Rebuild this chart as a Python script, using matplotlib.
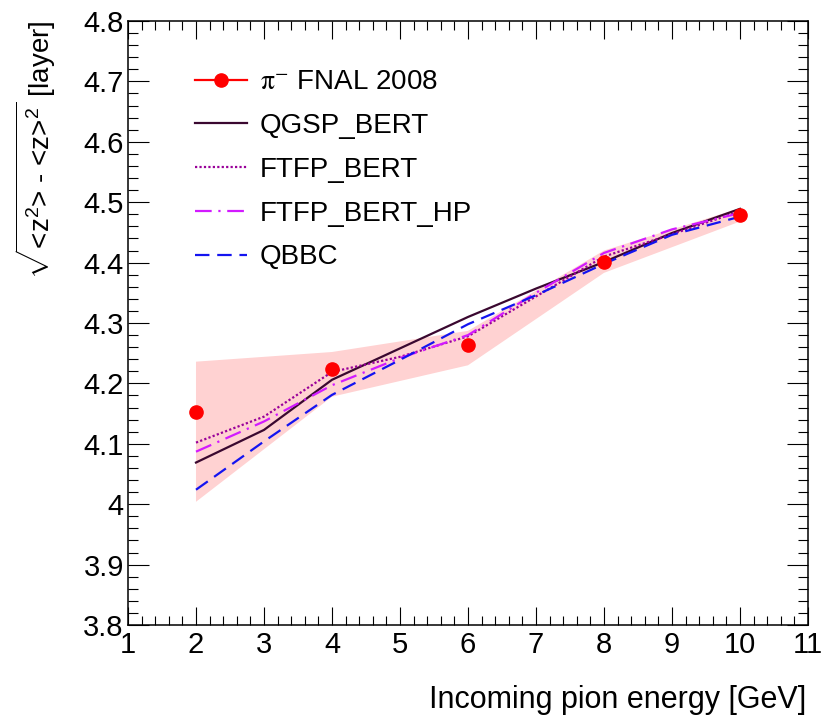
"""Shower width vs pion energy - FNAL 2008 data vs Geant4 physics lists."""

import matplotlib
matplotlib.use("Agg")
import matplotlib.pyplot as plt
from matplotlib.ticker import MultipleLocator, FixedLocator, FixedFormatter


# test beam data (pi- FNAL 2008) with systematic band
energy = [2, 4, 6, 8, 10]
fnal = [4.152, 4.224, 4.264, 4.401, 4.479]
band_hi = [4.236, 4.252, 4.287, 4.420, 4.490]
band_lo = [4.004, 4.178, 4.230, 4.383, 4.468]

# simulation, every GeV
energy_sim = [2, 3, 4, 5, 6, 7, 8, 9, 10]
qgsp_bert = [4.069, 4.123, 4.206, 4.258, 4.310, 4.357, 4.401, 4.449, 4.489]
ftfp_bert = [4.102, 4.145, 4.219, 4.244, 4.278, 4.344, 4.410, 4.447, 4.485]
ftfp_bert_hp = [4.087, 4.137, 4.197, 4.242, 4.280, 4.350, 4.416, 4.455, 4.482]
qbbc = [4.024, 4.104, 4.181, 4.239, 4.298, 4.346, 4.398, 4.446, 4.476]

yticks = [3.8, 3.9, 4.0, 4.1, 4.2, 4.3, 4.4, 4.5, 4.6, 4.7, 4.8]
ytick_labels = ["3.8", "3.9", "4", "4.1", "4.2", "4.3", "4.4", "4.5", "4.6", "4.7", "4.8"]
xticks = [1, 2, 3, 4, 5, 6, 7, 8, 9, 10, 11]

plt.rcParams["font.family"] = ["Liberation Sans", "DejaVu Sans"]
plt.rcParams["mathtext.fontset"] = "custom"
plt.rcParams["mathtext.rm"] = "Liberation Sans"
plt.rcParams["mathtext.it"] = "Liberation Sans"

fig = plt.figure(figsize=(8.36, 7.21), dpi=100)
ax = fig.add_axes([0.1531, 0.1331, 0.8134, 0.8378])

ax.fill_between(energy, band_lo, band_hi, facecolor="#ffd2d2", edgecolor="none",
                linewidth=0, zorder=1)

ax.plot(energy_sim, qgsp_bert, color="#3a0830", lw=1.6, ls="-", label="QGSP_BERT", zorder=3)
ax.plot(energy_sim, ftfp_bert, color="#990099", lw=1.6, ls=(0, (1, 1)), label="FTFP_BERT", zorder=3)
ax.plot(energy_sim, ftfp_bert_hp, color="#d21aff", lw=1.6, ls=(0, (7.5, 3, 1, 3)),
        label="FTFP_BERT_HP", zorder=3)
ax.plot(energy_sim, qbbc, color="#1414f0", lw=1.6, ls=(0, (6.5, 3.5)), label="QBBC", zorder=3)
ax.plot(energy, fnal, color="red", marker="o", ms=9.5, ls="none", zorder=5)

# legend entry for the data shows a line through the marker (ROOT "lp")
data_handle, = ax.plot([], [], color="red", marker="o", ms=9.5, lw=1.6)
h, l = ax.get_legend_handles_labels()
leg = ax.legend([data_handle] + h, [r"$\mathrm{\pi}^{-}$ FNAL 2008"] + l, loc="upper left",
                bbox_to_anchor=(0.0985, 0.92), frameon=False, fontsize=20,
                handlelength=1.87, handletextpad=0.47, labelspacing=0.64,
                borderpad=0, borderaxespad=0)
leg.get_texts()[0].set_math_fontfamily("stix")

ax.set_xlim(1, 11)
ax.set_ylim(3.8, 4.8)
ax.xaxis.set_major_locator(FixedLocator(xticks))
ax.xaxis.set_minor_locator(MultipleLocator(0.2))
ax.yaxis.set_major_locator(FixedLocator(yticks))
ax.yaxis.set_major_formatter(FixedFormatter(ytick_labels))
ax.yaxis.set_minor_locator(MultipleLocator(0.02))

ax.tick_params(axis="both", which="both", direction="in", top=True, right=True,
               labelsize=21, width=0.8)
ax.tick_params(axis="x", which="major", length=13, pad=4)
ax.tick_params(axis="x", which="minor", length=6.5)
ax.tick_params(axis="y", which="major", length=15, pad=3)
ax.tick_params(axis="y", which="minor", length=7)
for sp in ax.spines.values():
    sp.set_linewidth(1.1)

fig.text(0.964, 0.029, "Incoming pion energy [GeV]", ha="right", va="center", fontsize=22)
fig.text(0.043, 0.972, r"$\sqrt{\text{<z}^{2}\text{> - <z>}^{2}}$ [layer]", rotation=90,
         ha="center", va="top", fontsize=20)

fig.savefig("out.png", dpi=100)
